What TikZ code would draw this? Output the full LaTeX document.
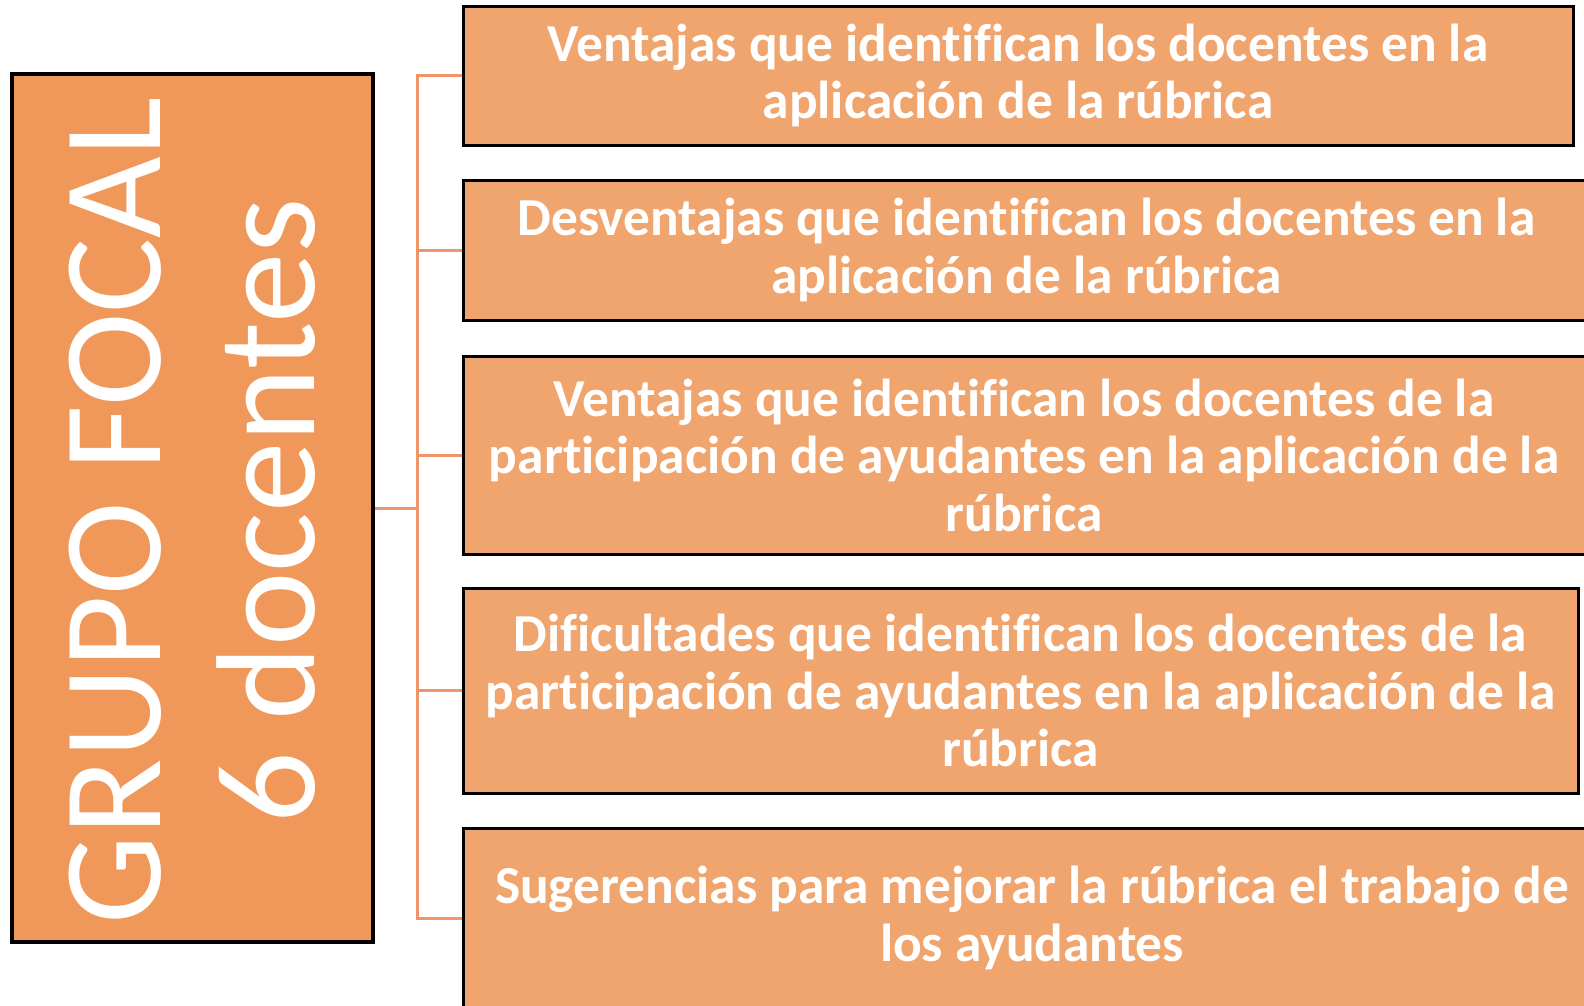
\documentclass[tikz,border=0pt]{standalone}
\usepackage{fontspec}
\setmainfont{Carlito}[Ligatures=NoCommon]
\usepackage{tikz}
\definecolor{grupofill}{HTML}{F0985A}
\definecolor{temafill}{HTML}{F0A56E}
\definecolor{linkcol}{HTML}{F0956A}

\begin{document}
\begin{tikzpicture}[x=1pt,y=-1pt,
  tema/.style={draw=black,line width=3pt,fill=temafill,text=white,align=center,
    inner sep=0pt,font=\fontsize{53.4}{57.5}\selectfont\bfseries,
    minimum width=#1},
  tema/.default=1120pt,
  grupo/.style={draw=black,line width=3.5pt,fill=grupofill,
    inner sep=0pt,minimum width=361pt,minimum height=868pt},
  link/.style={draw=linkcol,line width=3pt}
  ]
\useasboundingbox (0,0) rectangle (1584,1005);
\clip (0,0) rectangle (1584,1005);
\node[grupo] (grupo) at (192.5,508) {};
\node[rotate=90,text=white,align=center,xshift=-3pt,
  font=\fontsize{141}{154}\selectfont]
  (rotulo) at (grupo.center) {GRUPO FOCAL\\6 docentes};
\node[tema=1110pt,minimum height=139pt] (b1) at (1018,75.5)
  {Ventajas que identifican los docentes en la\\aplicación de la rúbrica};
\node[tema=1127pt,minimum height=140pt] (b2) at (1026.5,250)
  {Desventajas que identifican los docentes en la\\aplicación de la rúbrica};
\node[tema=1122pt,minimum height=198pt] (b3) at (1024,455)
  {Ventajas que identifican los docentes de la\\participación de ayudantes en la aplicación de la\\rúbrica};
\node[tema=1115pt,minimum height=205pt] (b4) at (1020.5,690.5)
  {Dificultades que identifican los docentes de la\\participación de ayudantes en la aplicación de la\\rúbrica};
\node[tema=1138pt,minimum height=180pt] (b5) at (1032,918)
  {Sugerencias para mejorar la rúbrica el trabajo de\\los ayudantes};
% conectores
\coordinate (tronco) at (417,508);
\draw[link] (grupo.east) -- (tronco);
\foreach \b in {b1,b2,b3,b4,b5}
  \draw[link] (tronco) |- (\b.west);
\end{tikzpicture}
\end{document}
